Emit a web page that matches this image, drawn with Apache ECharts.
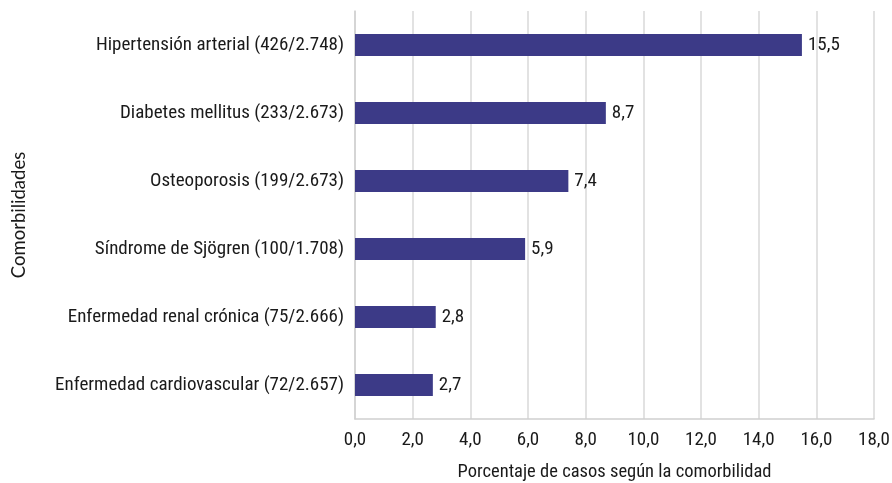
<!DOCTYPE html>
<html>
<head>
<meta charset="utf-8">
<script src="https://cdn.jsdelivr.net/npm/echarts@6/dist/echarts.min.js"></script>
<style>
  html, body { margin: 0; padding: 0; background: #fff; }
  #chart { width: 892px; height: 483px; }
</style>
</head>
<body>
<div id="chart"></div>
<script>
// Comorbidity categories (bottom to top, as drawn on the category axis)
const categories = [
  'Enfermedad cardiovascular (72/2.657)',
  'Enfermedad renal crónica (75/2.666)',
  'Síndrome de Sjögren (100/1.708)',
  'Osteoporosis (199/2.673)',
  'Diabetes mellitus (233/2.673)',
  'Hipertensión arterial (426/2.748)'
];
// Percentage of cases per comorbidity
const percentages = [2.7, 2.8, 5.9, 7.4, 8.7, 15.5];

const fontMain = '"Liberation Sans Narrow", "Roboto Condensed", "Noto Sans", sans-serif';
const textColor = '#1a1a1a';
const fmt = v => v.toFixed(1).replace('.', ',');

const chart = echarts.init(document.getElementById('chart'));
chart.setOption({
  animation: false,
  backgroundColor: '#ffffff',
  grid: {
    left: 355, right: 18, top: 11, bottom: 64,
    containLabel: false, outerBoundsMode: 'none'
  },
  xAxis: {
    type: 'value',
    min: 0, max: 18, interval: 2,
    axisLine: { show: true, lineStyle: { color: '#d0d0d0', width: 1.5 } },
    axisTick: { show: false },
    splitLine: { show: true, lineStyle: { color: '#d9d9d9', width: 1.5 } },
    axisLabel: {
      formatter: v => fmt(v),
      color: textColor, fontFamily: fontMain, fontSize: 19, margin: 12
    },
    name: 'Porcentaje de casos según la comorbilidad',
    nameLocation: 'middle', nameGap: 44,
    nameTextStyle: { color: textColor, fontFamily: fontMain, fontSize: 18.5 }
  },
  yAxis: {
    type: 'category',
    data: categories,
    axisLine: { show: true, lineStyle: { color: '#d0d0d0', width: 1.5 } },
    axisTick: { show: false },
    axisLabel: { color: textColor, fontFamily: fontMain, fontSize: 19, margin: 11 },
    name: 'Comorbilidades',
    nameLocation: 'middle', nameGap: 326, nameRotate: 90,
    nameTextStyle: { color: textColor, fontFamily: 'Lato, "Open Sans", sans-serif', fontSize: 18.5 }
  },
  series: [{
    type: 'bar',
    data: percentages,
    barWidth: 22,
    itemStyle: { color: '#3c3a87' },
    label: {
      show: true, position: 'right', distance: 6,
      formatter: p => fmt(p.value),
      color: textColor, fontFamily: fontMain, fontSize: 19
    }
  }]
});
</script>
</body>
</html>
